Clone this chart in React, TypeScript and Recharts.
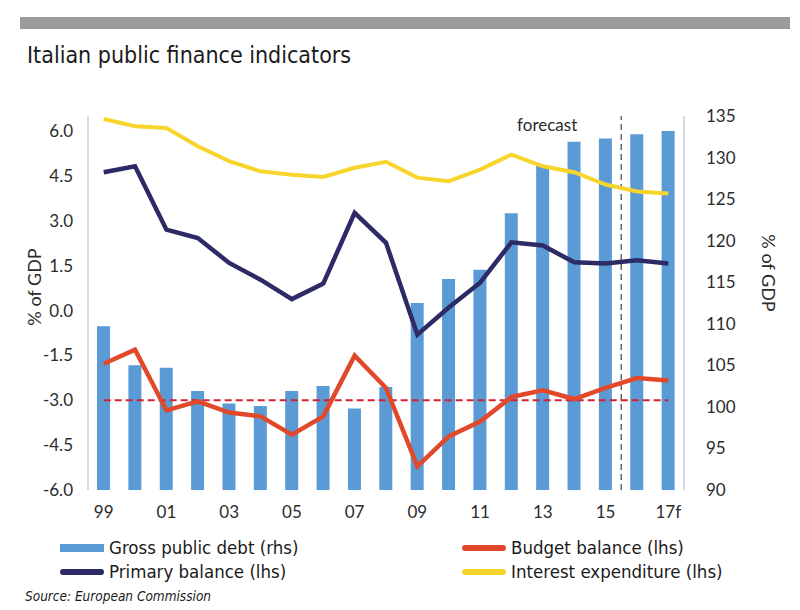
import React from 'react';
import { ComposedChart, Bar, Line, XAxis, YAxis, ReferenceLine } from 'recharts';

const years = ['99', '00', '01', '02', '03', '04', '05', '06', '07', '08', '09', '10', '11', '12', '13', '14', '15', '16f', '17f'];
const grossDebt = [109.7, 105.0, 104.7, 101.9, 100.4, 100.1, 101.9, 102.5, 99.8, 102.4, 112.5, 115.4, 116.5, 123.3, 129.0, 131.9, 132.3, 132.8, 133.2];
const budgetBalance = [-1.78, -1.31, -3.34, -3.04, -3.41, -3.54, -4.15, -3.54, -1.51, -2.59, -5.21, -4.21, -3.71, -2.89, -2.67, -2.96, -2.59, -2.26, -2.34];
const primaryBalance = [4.62, 4.82, 2.7, 2.42, 1.59, 1.03, 0.38, 0.9, 3.26, 2.26, -0.81, 0.1, 0.93, 2.28, 2.17, 1.61, 1.57, 1.68, 1.57];
const interestExp = [6.4, 6.16, 6.1, 5.49, 4.99, 4.65, 4.54, 4.46, 4.77, 4.97, 4.44, 4.32, 4.71, 5.21, 4.82, 4.62, 4.21, 3.98, 3.91];
const leftTicks = [-6, -4.5, -3, -1.5, 0, 1.5, 3, 4.5, 6];
const rightTicks = [90, 95, 100, 105, 110, 115, 120, 125, 130, 135];

const data = years.map((year, i) => ({
  year,
  debt: grossDebt[i],
  budget: budgetBalance[i],
  primary: primaryBalance[i],
  interest: interestExp[i],
}));

const BLUE = '#5B9BD5';
const RED = '#E2492A';
const NAVY = '#2D2B66';
const YELLOW = '#F7D52C';
const narrow = '"Liberation Sans Narrow", "DejaVu Sans Condensed", "Roboto", sans-serif';
const tickFont = 'Lato, "Open Sans", sans-serif';
const tick = { fill: '#2b2b2b', fontSize: 17, fontFamily: tickFont };

const legendItems = [
  { label: 'Gross public debt (rhs)', color: BLUE, bar: true, left: 60, top: 537 },
  { label: 'Budget balance (lhs)', color: RED, bar: false, left: 462, top: 537 },
  { label: 'Primary balance (lhs)', color: NAVY, bar: false, left: 60, top: 561 },
  { label: 'Interest expenditure (lhs)', color: YELLOW, bar: false, left: 462, top: 561 },
];

export default function App() {
  return (
    <div style={{ position: 'absolute', left: 0, top: 0, width: 800, height: 610, background: '#fff', overflow: 'hidden' }}>
      <div style={{ position: 'absolute', left: 20, top: 17, width: 770, height: 12, background: '#9b9b9b' }} />
      <div style={{ position: 'absolute', left: 27, top: 42, fontFamily: narrow, fontSize: 23, color: '#1a1a1a', whiteSpace: 'nowrap' }}>
        Italian public finance indicators
      </div>
      <div style={{ position: 'absolute', left: 0, top: 0 }}>
        <ComposedChart width={800} height={530} data={data} margin={{ top: 116, right: 56, bottom: 10, left: 26 }}>
          <XAxis dataKey="year" interval={1} axisLine={false} tickLine={false} tick={tick} tickMargin={10} height={30} />
          <YAxis
            yAxisId="left"
            domain={[-6, 6.5]}
            ticks={leftTicks}
            allowDataOverflow
            tickFormatter={(v: number) => v.toFixed(1)}
            axisLine={{ stroke: '#b5b5b5' }}
            tickLine={false}
            tickSize={0}
            tickMargin={15}
            tick={tick}
            width={62}
            label={{ value: '% of GDP', angle: -90, position: 'insideLeft', offset: 9, dy: -16, style: { fill: '#2b2b2b', fontSize: 18, fontFamily: tickFont, textAnchor: 'middle' } }}
          />
          <YAxis
            yAxisId="right"
            orientation="right"
            domain={[90, 135]}
            ticks={rightTicks}
            allowDataOverflow
            axisLine={{ stroke: '#b5b5b5' }}
            tickLine={false}
            tickSize={0}
            tickMargin={22}
            tick={{ ...tick, textAnchor: 'start' }}
            width={60}
            label={{ value: '% of GDP', angle: 90, position: 'insideRight', offset: -24, dy: -30, style: { fill: '#2b2b2b', fontSize: 18, fontFamily: tickFont, textAnchor: 'middle' } }}
          />
          <Bar yAxisId="right" dataKey="debt" fill={BLUE} barSize={13} isAnimationActive={false} />
          <ReferenceLine
            yAxisId="left"
            x="16f"
            position="start"
            stroke="#666"
            strokeWidth={1.5}
            strokeDasharray="6 4"
            label={(props: any) => {
              const vb = props.viewBox || {};
              return (
                <text x={(vb.x ?? 0) - 44} y={(vb.y ?? 0) + 15} textAnchor="end" fill="#2b2b2b" fontSize={17} fontFamily={tickFont}>
                  forecast
                </text>
              );
            }}
          />
          <ReferenceLine
            yAxisId="left"
            segment={[{ x: '99', y: -3 }, { x: '17f', y: -3 }]}
            stroke="#D42030"
            strokeWidth={2}
            strokeDasharray="7 4"
          />
          <Line yAxisId="left" type="linear" dataKey="interest" stroke={YELLOW} strokeWidth={4} dot={false} isAnimationActive={false} />
          <Line yAxisId="left" type="linear" dataKey="primary" stroke={NAVY} strokeWidth={4.5} dot={false} isAnimationActive={false} />
          <Line yAxisId="left" type="linear" dataKey="budget" stroke={RED} strokeWidth={4.5} dot={false} isAnimationActive={false} />
        </ComposedChart>
      </div>
      {legendItems.map((item) => (
        <div key={item.label} style={{ position: 'absolute', left: item.left, top: item.top, display: 'flex', alignItems: 'center', fontFamily: narrow, fontSize: 18.5, color: '#1a1a1a', whiteSpace: 'nowrap' }}>
          <span
            style={{
              display: 'inline-block',
              width: 44,
              height: item.bar ? 8 : 6,
              borderRadius: item.bar ? 0 : 3,
              background: item.color,
              marginRight: 5,
            }}
          />
          {item.label}
        </div>
      ))}
      <div style={{ position: 'absolute', left: 25, top: 588, fontFamily: narrow, fontSize: 13.5, fontStyle: 'italic', color: '#1a1a1a' }}>
        Source: European Commission
      </div>
    </div>
  );
}
